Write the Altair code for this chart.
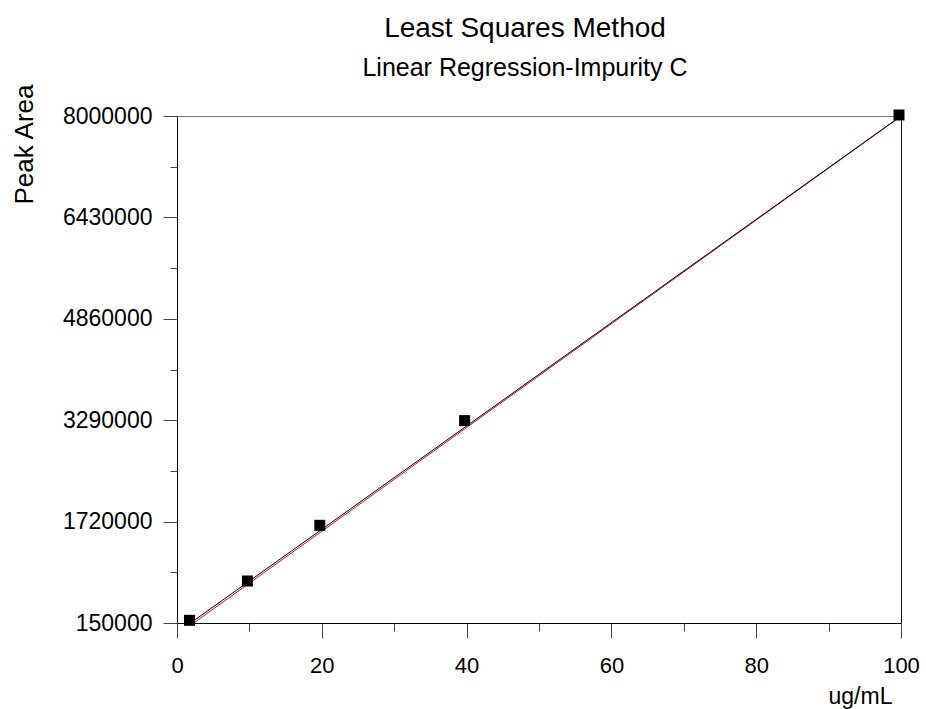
import altair as alt
import pandas as pd

# Data
conc = [2, 10, 20, 40, 100]                       # ug/mL
area = [176000, 785000, 1647000, 3268000, 8000000]  # Peak Area

fit_x = [2, 100]
fit_black = [160000, 8000000]
fit_red = [125000, 7995000]

x_major = [0, 20, 40, 60, 80, 100]
x_minor = [10, 30, 50, 70, 90]
y_major = [150000, 1720000, 3290000, 4860000, 6430000, 8000000]
y_minor = [935000, 2505000, 4075000, 5645000, 7215000]

FONT = "Liberation Sans"

pts = pd.DataFrame({"x": conc, "y": area})
fit = pd.DataFrame({
    "x": fit_x + fit_x,
    "y": fit_red + fit_black,
    "s": ["a_red"] * 2 + ["b_black"] * 2,
})

xs = alt.Scale(domain=[0, 100], nice=False, zero=False)
ys = alt.Scale(domain=[150000, 8000000], nice=False, zero=False)

x_axis = alt.Axis(values=x_major, tickSize=15, tickColor="#444", domainColor="#000",
                  labelFont=FONT, labelFontSize=22, labelColor="black", labelPadding=17,
                  labelFlush=False, grid=False, orient="bottom",
                  title="ug/mL", titleFont=FONT, titleFontSize=23, titleFontWeight="normal",
                  titleColor="black", titleX=683, titleY=80, titleAlign="center",
                  titleBaseline="alphabetic")
y_axis = alt.Axis(values=y_major, tickSize=14, tickColor="#444", domainColor="#000",
                  labelFont=FONT, labelFontSize=23, labelColor="black", labelPadding=11,
                  labelFlush=False, format="d", grid=False, orient="left",
                  title="Peak Area", titleFont=FONT, titleFontSize=26, titleFontWeight="normal",
                  titleColor="black", titleAngle=270, titleX=-145, titleY=88,
                  titleAlign="left", titleBaseline="alphabetic")

x_axis_minor = alt.Axis(values=x_minor, tickSize=8, tickColor="#444", labels=False,
                        domain=False, grid=False, title=None, orient="bottom")
y_axis_minor = alt.Axis(values=y_minor, tickSize=7, tickColor="#444", labels=False,
                        domain=False, grid=False, title=None, orient="left")

x_axis_top = alt.Axis(ticks=False, labels=False, domain=True, domainColor="#777",
                      grid=False, title=None, orient="top")
y_axis_right = alt.Axis(ticks=False, labels=False, domain=True, domainColor="#111",
                        grid=False, title=None, orient="right")

lines = alt.Chart(fit).mark_line(strokeWidth=1).encode(
    x=alt.X("x:Q", scale=xs, axis=x_axis),
    y=alt.Y("y:Q", scale=ys, axis=y_axis),
    color=alt.Color("s:N", scale=alt.Scale(domain=["a_red", "b_black"], range=["#c01818", "#000000"]), legend=None),
    order=alt.Order("x:Q"),
    detail="s:N",
)

minor = alt.Chart(pts).mark_point(opacity=0).encode(
    x=alt.X("x:Q", scale=xs, axis=x_axis_minor),
    y=alt.Y("y:Q", scale=ys, axis=y_axis_minor),
)

frame = alt.Chart(pts).mark_point(opacity=0).encode(
    x=alt.X("x:Q", scale=xs, axis=x_axis_top),
    y=alt.Y("y:Q", scale=ys, axis=y_axis_right),
)

points = alt.Chart(pts).mark_point(shape="square", filled=True, size=121, color="black",
                                    opacity=1, xOffset=-2, yOffset=-1).encode(
    x=alt.X("x:Q", scale=xs, axis=None),
    y=alt.Y("y:Q", scale=ys, axis=None),
)

chart = alt.layer(lines, minor, frame, points).resolve_axis(x="independent", y="independent").properties(
    width=724,
    height=507,
    padding={"left": 177, "top": 116, "right": 25, "bottom": 86},
    autosize=alt.AutoSizeParams(type="none"),
    title=alt.TitleParams(
        text="Least Squares Method",
        subtitle="Linear Regression-Impurity C",
        font=FONT, fontSize=28, fontWeight="normal", color="black",
        subtitleFont=FONT, subtitleFontSize=25, subtitleColor="black",
        subtitlePadding=13, anchor="middle", dx=-14, offset=2,
    ),
).configure_view(stroke=None).configure(background="white")

chart.save("out.html", embed_options={"renderer": "svg", "actions": False})
